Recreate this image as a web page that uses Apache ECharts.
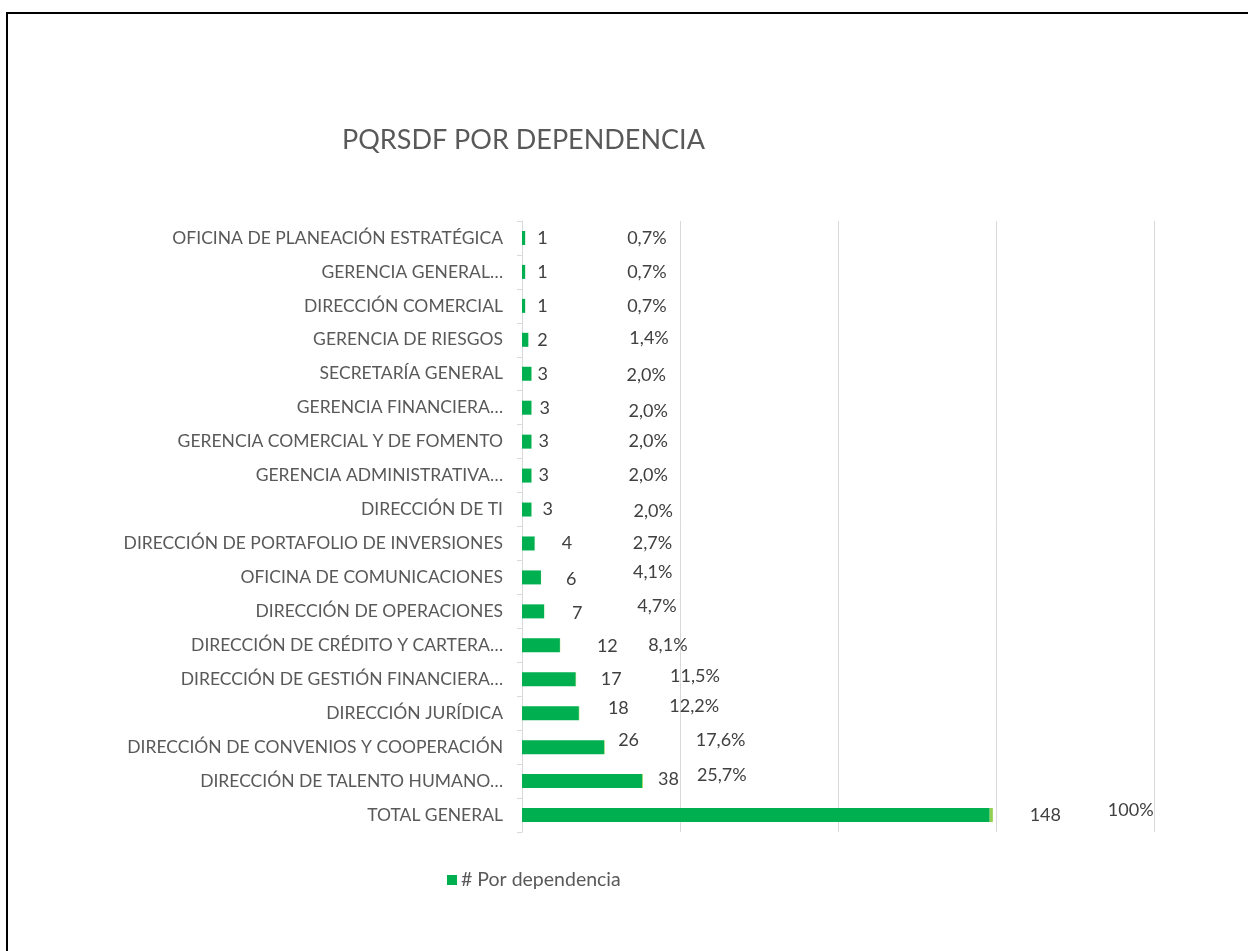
<!DOCTYPE html>
<html>
<head>
<meta charset="utf-8">
<script src="https://cdn.jsdelivr.net/npm/echarts@6/dist/echarts.min.js"></script>
<style>
html,body{margin:0;padding:0;background:#fff;}
#chart{width:1248px;height:951px;position:absolute;left:0;top:0;}
#frame{position:absolute;left:6px;top:12px;width:1300px;height:1000px;border-top:2px solid #000;border-left:2px solid #000;pointer-events:none;}
</style>
</head>
<body>
<div id="chart"></div>
<div id="frame"></div>
<script>
const categories = [
  'OFICINA DE PLANEACIÓN ESTRATÉGICA',
  'GERENCIA GENERAL…',
  'DIRECCIÓN COMERCIAL',
  'GERENCIA DE RIESGOS',
  'SECRETARÍA GENERAL',
  'GERENCIA FINANCIERA…',
  'GERENCIA COMERCIAL Y DE FOMENTO',
  'GERENCIA ADMINISTRATIVA…',
  'DIRECCIÓN DE TI',
  'DIRECCIÓN DE PORTAFOLIO DE INVERSIONES',
  'OFICINA DE COMUNICACIONES',
  'DIRECCIÓN DE OPERACIONES',
  'DIRECCIÓN DE CRÉDITO Y CARTERA…',
  'DIRECCIÓN DE GESTIÓN FINANCIERA…',
  'DIRECCIÓN JURÍDICA',
  'DIRECCIÓN DE CONVENIOS Y COOPERACIÓN',
  'DIRECCIÓN DE TALENTO HUMANO…',
  'TOTAL GENERAL'
];
const counts = [1, 1, 1, 2, 3, 3, 3, 3, 3, 4, 6, 7, 12, 17, 18, 26, 38, 148];
const percents = [0.7, 0.7, 0.7, 1.4, 2.0, 2.0, 2.0, 2.0, 2.0, 2.7, 4.1, 4.7, 8.1, 11.5, 12.2, 17.6, 25.7, 100];
const xTicks = { min: 0, max: 200, interval: 50 };

// label nudges (layout only), [dx, dy]
const countNudge = [[7,0],[7,0],[7,0],[4,0],[1,0],[3,0],[2,0],[2,0],[6,0],[22,0],[20,2],[23,2],[32,1],[20,0],[24,-5],[9,-7],[11,-2],[35,0]];
const pctNudge = [[97,0],[97,0],[97,0],[96,-2],[90,1],[92,3],[92,0],[92,0],[97,2],[93,0],[87,-5],[88,-5],[83,0],[89,-3],[85,-7],[86,-7],[49,-6],[110,-5]];

const FONT = 'Lato';
const TXT = '#404040';

function fmtPct(p){ return p >= 100 ? '100%' : p.toFixed(1).replace('.', ',') + '%'; }

const countData = counts.map((v, i) => ({
  value: v,
  label: { offset: countNudge[i] }
}));
const pctData = percents.map((p, i) => ({
  value: p / 100,
  label: { offset: pctNudge[i], formatter: fmtPct(p) }
}));

const chart = echarts.init(document.getElementById('chart'), null, { renderer: 'canvas' });
chart.setOption({
  animation: false,
  backgroundColor: '#ffffff',
  title: {
    text: 'PQRSDF POR DEPENDENCIA',
    left: 337, top: 122,
    textStyle: { fontFamily: FONT, fontSize: 27, fontWeight: 'normal', color: '#595959' }
  },
  legend: {
    data: ['# Por dependencia'],
    left: 447, top: 870, padding: 0,
    itemWidth: 10, itemHeight: 10, itemGap: 4,
    icon: 'rect',
    textStyle: { fontFamily: FONT, fontSize: 19.5, color: '#595959', padding: [0,0,0,-1] }
  },
  grid: { left: 522, right: 94, top: 221, bottom: 119, containLabel: false },
  xAxis: {
    type: 'value',
    min: xTicks.min, max: xTicks.max, interval: xTicks.interval,
    axisLabel: { show: false },
    axisLine: { show: false },
    axisTick: { show: false },
    splitLine: { show: true, lineStyle: { color: '#d9d9d9', width: 1 } }
  },
  yAxis: {
    type: 'category',
    data: categories,
    inverse: true,
    axisLine: { show: true, lineStyle: { color: '#d9d9d9', width: 1 } },
    axisTick: { show: true, length: 5, lineStyle: { color: '#d9d9d9' } },
    axisLabel: { fontFamily: FONT, fontSize: 17.5, color: '#595959', margin: 19 }
  },
  series: [
    {
      name: '# Por dependencia',
      type: 'bar',
      stack: 'a',
      barWidth: 14,
      itemStyle: { color: '#00B050' },
      label: { show: true, position: 'right', distance: 5, fontFamily: FONT, fontSize: 18, color: TXT },
      data: countData
    },
    {
      name: '% Por dependencia',
      type: 'bar',
      stack: 'a',
      barWidth: 14,
      itemStyle: { color: '#92D050' },
      label: { show: true, position: 'right', distance: 5, fontFamily: FONT, fontSize: 18, color: TXT },
      data: pctData
    }
  ]
});
</script>
</body>
</html>
